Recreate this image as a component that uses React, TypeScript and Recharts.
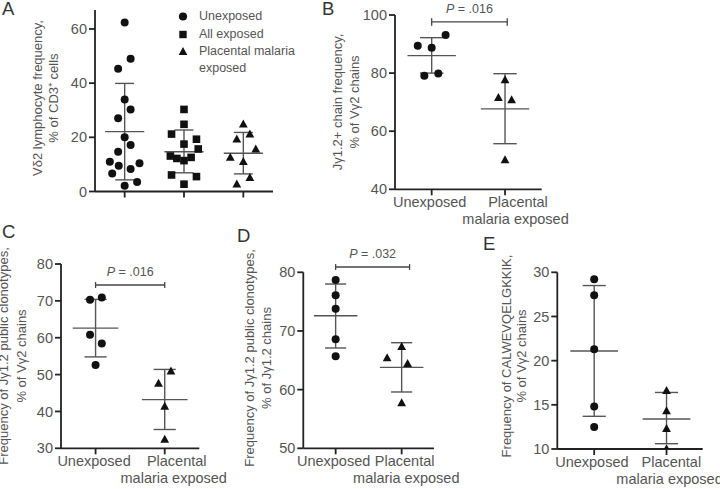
import {
  Legend,
  ReferenceLine,
  Scatter,
  ScatterChart,
  XAxis,
  YAxis,
} from "recharts";

const FONT = '"Liberation Sans", Arial, Helvetica, sans-serif';
const INK = "#111";
const AXIS = "#222";
const TEXT = "#555";
const STAT = "#555";

// Panel A: Vδ2 lymphocyte frequency, % of CD3+ cells
const aSeriesNames = ["Unexposed", "All exposed", "Placental malaria exposed"];
const aUnexposed = [62.4, 49, 45.3, 34, 30.3, 27, 20, 17.2, 14.7, 11, 9.5, 10.4, 8.3, 6.6, 3.5, 2.1];
const aUnexposedSpread = [0, 0.1, -0.11, 0, 0.1, -0.11, 0, 0.1, -0.11, -0.25, -0.1, 0.25, 0.1, -0.21, 0.21, 0];
const aAllExposed = [30.3, 24.8, 21.2, 19.3, 17.5, 15.7, 13.1, 12.2, 11.4, 12.6, 6.1, 5.5, 2.7];
const aAllExposedSpread = [0, 0, -0.21, 0.21, 0, 0.24, -0.23, -0.12, 0, 0.12, -0.21, 0.21, 0];
const aPlacental = [24.8, 19.3, 21.1, 15.6, 12.5, 11, 5.1, 2.7];
const aPlacentalSpread = [0, -0.11, 0.11, 0.21, -0.22, 0, 0.11, -0.11];
// mean, mean - SD, mean + SD per group
const aStats = [[22.1, 4.3, 39.9], [14.7, 6.9, 22.7], [14.1, 6.5, 21.8]];
const aTicks = [0, 20, 40, 60];
const aYTitle = ["Vδ2 lymphocyte frequency,", "% of CD3⁺ cells"];

// shared two-group panels
const twoGroupNames = ["Unexposed", "Placental malaria exposed"];
const twoGroupLabels = [["Unexposed"], ["Placental", "malaria exposed"]];

// Panel B: Jγ1.2+ chain frequency
const bUnexposed = [93.1, 89.4, 88.7, 79.1, 79.9];
const bUnexposedSpread = [0.19, -0.19, 0, -0.1, 0.09];
const bPlacental = [77.6, 71.5, 70.7, 50.1];
const bPlacentalSpread = [0, -0.09, 0.09, 0];
const bStats = [[86, 80, 92.2], [67.7, 55.7, 79.8]];
const bTicks = [40, 60, 80, 100];
const bP = ".016";
const bYTitle = ["Jγ1.2+ chain frequency,", "% of Vγ2 chains"];

// Panel C: Jγ1.2 public clonotypes, % of Vγ2 chains
const cUnexposed = [70.3, 70.9, 60.8, 58.4, 52.6];
const cUnexposedSpread = [-0.08, 0.09, -0.08, 0.09, 0];
const cPlacental = [50.9, 47.6, 41.3, 32.4];
const cPlacentalSpread = [0.09, -0.09, 0, 0];
const cStats = [[62.6, 54.8, 70.4], [43.2, 35.1, 51.4]];
const cTicks = [30, 40, 50, 60, 70, 80];
const cP = ".016";
const cYTitle = ["Frequency of Jγ1.2 public clonotypes,", "% of Vγ2 chains"];

// Panel D: Jγ1.2 public clonotypes, % of Jγ1.2 chains
const dUnexposed = [78.7, 76.1, 73.8, 68.6, 65.7];
const dUnexposedSpread = [0, 0, 0, 0, 0];
const dPlacental = [67.3, 65.4, 64.4, 57.7];
const dPlacentalSpread = [0, -0.22, 0.09, 0];
const dStats = [[72.6, 67.1, 78], [63.8, 59.6, 68]];
const dTicks = [50, 60, 70, 80];
const dP = ".032";
const dYTitle = ["Frequency of Jγ1.2 public clonotypes,", "% of Jγ1.2 chains"];

// Panel E: CALWEVQELGKKIK, % of Vγ2 chains
const eUnexposed = [29.2, 27.4, 21.3, 14.8, 12.5];
const eUnexposedSpread = [0, 0, 0, 0, 0];
const ePlacental = [16.6, 14.3, 12.3, 10.0];
const ePlacentalSpread = [0, 0, 0, 0];
const eStats = [[21.1, 13.7, 28.5], [13.4, 10.6, 16.4]];
const eTicks = [10, 15, 20, 25, 30];
const eYTitle = ["Frequency of CALWEVQELGKKIK,", "% of Vγ2 chains"];

type Kind = "circle" | "square" | "triangle";
type Point = { x: number; y: number };
type Series = { name: string; kind: Kind; points: Point[] };

type PanelConfig = {
  id: string;
  left: number;
  top: number;
  width: number;
  height: number;
  axisW: number;
  marginTop: number;
  marginRight: number;
  xAxisH: number;
  xDomain: [number, number];
  yDomain: [number, number];
  yTicks: number[];
  series: Series[];
  stats: number[][];
  labels?: string[][];
  labelShift?: number[][];
  bracket?: { from: number; to: number; y: number; cap: number; p: string };
  legend?: boolean;
};

const toPoints = (group: number, values: number[], spread: number[]): Point[] =>
  values.map((y, i) => ({ x: group + (spread[i] ?? 0), y }));

const Marker = ({ cx, cy, kind }: { cx?: number; cy?: number; kind: Kind }) => {
  if (cx == null || cy == null) return <g />;
  if (kind === "square") {
    return <rect x={cx - 3.8} y={cy - 3.8} width={7.6} height={7.6} fill={INK} />;
  }
  if (kind === "triangle") {
    return <polygon points={`${cx},${cy - 4.8} ${cx + 4.4},${cy + 3.2} ${cx - 4.4},${cy + 3.2}`} fill={INK} />;
  }
  return <circle cx={cx} cy={cy} r={4} fill={INK} />;
};

const LegendIcon = ({ kind }: { kind: string }) => (
  <svg width={10} height={17} style={{ flex: "none" }}>
    {kind === "square" && <rect x={1.3} y={4.8} width={7.4} height={7.4} fill={INK} />}
    {kind === "triangle" && <polygon points="5,4 9.3,12 0.7,12" fill={INK} />}
    {kind === "circle" && <circle cx={5} cy={8.5} r={4.1} fill={INK} />}
  </svg>
);

const renderLegend = (props: any) => {
  // keep the series order of the figure, not the alphabetical one
  const payload = [...(props.payload ?? [])].sort(
    (l: any, r: any) => aSeriesNames.indexOf(l.value) - aSeriesNames.indexOf(r.value),
  );
  return (
    <div style={{ fontFamily: FONT, fontSize: 12.5, color: TEXT, lineHeight: "17px" }}>
      {payload.map((entry: any) => (
        <div key={entry.value} style={{ display: "flex", alignItems: "flex-start", marginBottom: 0.4 }}>
          <LegendIcon kind={entry.type} />
          <span style={{ marginLeft: 11.3, width: 100 }}>{entry.value}</span>
        </div>
      ))}
    </div>
  );
};

const statLines = (stats: number[][]) =>
  stats.flatMap(([mean, lo, hi], i) => {
    const common = { stroke: STAT, strokeWidth: 1.4, ifOverflow: "visible" as const };
    return [
      <ReferenceLine key={`m${i}`} segment={[{ x: i - 0.33, y: mean }, { x: i + 0.33, y: mean }]} {...common} />,
      <ReferenceLine key={`v${i}`} segment={[{ x: i, y: lo }, { x: i, y: hi }]} {...common} />,
      <ReferenceLine key={`l${i}`} segment={[{ x: i - 0.16, y: lo }, { x: i + 0.16, y: lo }]} {...common} />,
      <ReferenceLine key={`h${i}`} segment={[{ x: i - 0.16, y: hi }, { x: i + 0.16, y: hi }]} {...common} />,
    ];
  });

const bracketLines = (b: NonNullable<PanelConfig["bracket"]>) => {
  const common = { stroke: "#444", strokeWidth: 1.3, ifOverflow: "visible" as const };
  return [
    <ReferenceLine
      key="bh"
      segment={[{ x: b.from, y: b.y }, { x: b.to, y: b.y }]}
      {...common}
      label={(props: any) => {
        const vb = props.viewBox ?? { x: 0, y: 0, width: 0 };
        return (
          <text
            x={vb.x + vb.width / 2}
            y={vb.y - 9}
            textAnchor="middle"
            fontSize={12.5}
            fill={TEXT}
            fontFamily={FONT}
          >
            <tspan fontStyle="italic">P</tspan> = {b.p}
          </text>
        );
      }}
    />,
    <ReferenceLine key="b0" segment={[{ x: b.from, y: b.y - b.cap }, { x: b.from, y: b.y + b.cap }]} {...common} />,
    <ReferenceLine key="b1" segment={[{ x: b.to, y: b.y - b.cap }, { x: b.to, y: b.y + b.cap }]} {...common} />,
  ];
};

const Panel = ({ cfg }: { cfg: PanelConfig }) => {
  const groups = cfg.stats.map((_, i) => i);
  const renderTick = (props: any) => {
    const idx = Math.round(props.payload?.value ?? 0);
    const lines = cfg.labels?.[idx] ?? [];
    const shifts = cfg.labelShift?.[idx] ?? [];
    return (
      <g>
        {lines.map((line, i) => (
          <text
            key={line}
            x={props.x + (shifts[i] ?? 0)}
            y={props.y + 10 + i * 17}
            textAnchor="middle"
            fontSize={14.5}
            fill={TEXT}
            fontFamily={FONT}
          >
            {line}
          </text>
        ))}
      </g>
    );
  };

  return (
    <div style={{ position: "absolute", left: cfg.left, top: cfg.top }}>
      <ScatterChart
        width={cfg.width}
        height={cfg.height}
        margin={{ top: cfg.marginTop, right: cfg.marginRight, bottom: 0, left: 0 }}
      >
        <XAxis
          type="number"
          dataKey="x"
          domain={cfg.xDomain}
          ticks={groups}
          interval={0}
          allowDataOverflow
          height={cfg.xAxisH}
          axisLine={{ stroke: AXIS, strokeWidth: 1.8 }}
          tickLine={{ stroke: AXIS, strokeWidth: 1.8 }}
          tickSize={6}
          tick={renderTick}
        />
        <YAxis
          type="number"
          dataKey="y"
          domain={cfg.yDomain}
          ticks={cfg.yTicks}
          interval={0}
          allowDataOverflow
          width={cfg.axisW}
          axisLine={{ stroke: AXIS, strokeWidth: 1.8 }}
          tickLine={{ stroke: AXIS, strokeWidth: 1.8 }}
          tickSize={6}
          tick={{ fill: TEXT, fontSize: 14.5, fontFamily: FONT }}
        />
        {cfg.series.map((s) => (
          <Scatter
            key={s.name}
            name={s.name}
            data={s.points}
            legendType={s.kind}
            isAnimationActive={false}
            shape={(p: any) => <Marker cx={p.cx} cy={p.cy} kind={s.kind} />}
          />
        ))}
        {statLines(cfg.stats)}
        {cfg.bracket ? bracketLines(cfg.bracket) : null}
        {cfg.legend ? (
          <Legend
            layout="vertical"
            align="center"
            verticalAlign="middle"
            content={renderLegend}
            wrapperStyle={{ left: 177.7, top: 8.2, width: 130, height: "auto" }}
          />
        ) : null}
      </ScatterChart>
    </div>
  );
};

const panels: PanelConfig[] = [
  {
    id: "A", left: 0, top: 0, width: 290, height: 200, axisW: 95, marginTop: 10, marginRight: 17, xAxisH: 8.5,
    xDomain: [-0.5, 2.5], yDomain: [0, 67], yTicks: aTicks, legend: true,
    series: [
      { name: aSeriesNames[0], kind: "circle", points: toPoints(0, aUnexposed, aUnexposedSpread) },
      { name: aSeriesNames[1], kind: "square", points: toPoints(1, aAllExposed, aAllExposedSpread) },
      { name: aSeriesNames[2], kind: "triangle", points: toPoints(2, aPlacental, aPlacentalSpread) },
    ],
    stats: aStats,
  },
  {
    id: "B", left: 330, top: 0, width: 245, height: 232, axisW: 65, marginTop: 15, marginRight: 33.3, xAxisH: 42.7,
    xDomain: [-0.5, 1.5], yDomain: [40, 100], yTicks: bTicks,
    series: [
      { name: twoGroupNames[0], kind: "circle", points: toPoints(0, bUnexposed, bUnexposedSpread) },
      { name: twoGroupNames[1], kind: "triangle", points: toPoints(1, bPlacental, bPlacentalSpread) },
    ],
    stats: bStats, labels: twoGroupLabels, labelShift: [[-2], [13, 10.5]],
    bracket: { from: 0, to: 1.03, y: 97.6, cap: 1.3, p: bP },
  },
  {
    id: "C", left: 0, top: 240, width: 240, height: 249, axisW: 61, marginTop: 24, marginRight: 40.7, xAxisH: 40.7,
    xDomain: [-0.5, 1.5], yDomain: [30, 80], yTicks: cTicks,
    series: [
      { name: twoGroupNames[0], kind: "circle", points: toPoints(0, cUnexposed, cUnexposedSpread) },
      { name: twoGroupNames[1], kind: "triangle", points: toPoints(1, cPlacental, cPlacentalSpread) },
    ],
    stats: cStats, labels: twoGroupLabels, labelShift: [[-1.5], [12, 9]],
    bracket: { from: 0, to: 1, y: 74.3, cap: 0.8, p: cP },
  },
  {
    id: "D", left: 240, top: 240, width: 240, height: 249, axisW: 63.3, marginTop: 32.3, marginRight: 46, xAxisH: 40.7,
    xDomain: [-0.49, 1.49], yDomain: [50, 80], yTicks: dTicks,
    series: [
      { name: twoGroupNames[0], kind: "circle", points: toPoints(0, dUnexposed, dUnexposedSpread) },
      { name: twoGroupNames[1], kind: "triangle", points: toPoints(1, dPlacental, dPlacentalSpread) },
    ],
    stats: dStats, labels: twoGroupLabels, labelShift: [[-2], [3, 4.6]],
    bracket: { from: 0, to: 1.12, y: 80.9, cap: 0.5, p: dP },
  },
  {
    id: "E", left: 480, top: 240, width: 240, height: 249, axisW: 77.3, marginTop: 32.3, marginRight: 17.3, xAxisH: 40,
    xDomain: [-0.51, 1.5], yDomain: [10, 30], yTicks: eTicks,
    series: [
      { name: twoGroupNames[0], kind: "circle", points: toPoints(0, eUnexposed, eUnexposedSpread) },
      { name: twoGroupNames[1], kind: "triangle", points: toPoints(1, ePlacental, ePlacentalSpread) },
    ],
    stats: eStats, labels: twoGroupLabels, labelShift: [[-2.3], [4.8, 3]],
  },
];

// panel letters and rotated y-axis titles
const panelLetters = [
  { text: "A", x: 2, y: 15 },
  { text: "B", x: 322, y: 15 },
  { text: "C", x: 2, y: 238 },
  { text: "D", x: 237, y: 242 },
  { text: "E", x: 483, y: 250 },
];

const yTitles = [
  { lines: aYTitle, xs: [42, 58], cy: 98 },
  { lines: bYTitle, xs: [342.4, 359], cy: 102 },
  { lines: cYTitle, xs: [7.5, 25.7], cy: 356 },
  { lines: dYTitle, xs: [254, 270.7], cy: 358 },
  { lines: eYTitle, xs: [510.7, 525.7], cy: 356 },
];

export default function App() {
  return (
    <div
      style={{
        position: "absolute",
        left: 0,
        top: 0,
        width: 720,
        height: 489,
        background: "#fff",
        overflow: "hidden",
      }}
    >
      <svg width={720} height={489} style={{ position: "absolute", left: 0, top: 0 }}>
        {panelLetters.map((l) => (
          <text key={l.text} x={l.x} y={l.y} fontSize={18.5} fill="#333" fontFamily={FONT}>
            {l.text}
          </text>
        ))}
        {yTitles.map((t, ti) =>
          t.lines.map((line, i) => (
            <text
              key={`${ti}-${i}`}
              transform={`translate(${t.xs[i]},${t.cy}) rotate(-90)`}
              textAnchor="middle"
              fontSize={13}
              fill={TEXT}
              fontFamily={FONT}
            >
              {line}
            </text>
          )),
        )}
      </svg>
      {panels.map((cfg) => (
        <Panel key={cfg.id} cfg={cfg} />
      ))}
    </div>
  );
}
